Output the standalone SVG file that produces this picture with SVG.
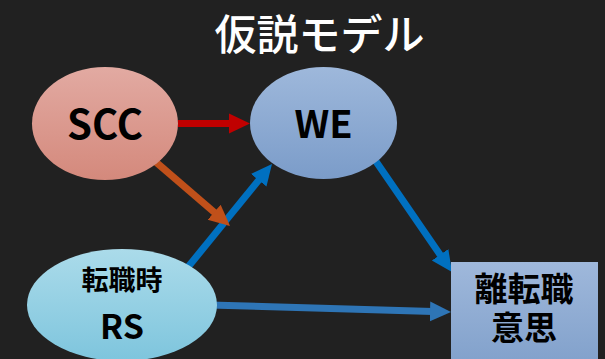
<svg xmlns="http://www.w3.org/2000/svg" width="605" height="359" viewBox="0 0 605 359">
<defs>
<style>
.lbl{font-family:"Noto Sans CJK JP","Liberation Sans",sans-serif;font-weight:bold;fill:#000;text-anchor:middle}
.title{font-family:"Noto Sans CJK JP","Liberation Sans",sans-serif;font-weight:500;fill:#fff;text-anchor:middle}
.c{fill:none;stroke-width:7}
</style>
<linearGradient id="gScc" x1="0" y1="0" x2="0" y2="1"><stop offset="0" stop-color="#E2AAA2"/><stop offset="1" stop-color="#D4897C"/></linearGradient>
<linearGradient id="gWe" x1="0" y1="0" x2="0" y2="1"><stop offset="0" stop-color="#9EB8DB"/><stop offset="1" stop-color="#7B9CC9"/></linearGradient>
<linearGradient id="gRs" x1="0" y1="0" x2="0" y2="1"><stop offset="0" stop-color="#ABDBEA"/><stop offset="1" stop-color="#7EC5DD"/></linearGradient>
<linearGradient id="gBox" x1="0" y1="0" x2="0" y2="1"><stop offset="0" stop-color="#9FB8DB"/><stop offset="1" stop-color="#7F9FCA"/></linearGradient>
<marker id="aRed" markerUnits="userSpaceOnUse" markerWidth="22" markerHeight="22" viewBox="0 -11 22 22" refX="3" refY="0" orient="auto"><path d="M0,-10 L21,0 L0,10 z" fill="#C00000"/></marker>
<marker id="aOr" markerUnits="userSpaceOnUse" markerWidth="22" markerHeight="22" viewBox="0 -11 22 22" refX="3" refY="0" orient="auto"><path d="M0,-10 L21,0 L0,10 z" fill="#C0501A"/></marker>
<marker id="aBl" markerUnits="userSpaceOnUse" markerWidth="22" markerHeight="22" viewBox="0 -11 22 22" refX="3" refY="0" orient="auto"><path d="M0,-10 L21,0 L0,10 z" fill="#0070C0"/></marker>
<marker id="aBl2" markerUnits="userSpaceOnUse" markerWidth="22" markerHeight="22" viewBox="0 -11 22 22" refX="3" refY="0" orient="auto"><path d="M0,-10 L21,0 L0,10 z" fill="#2E75B6"/></marker>
</defs>
<rect width="605" height="359" fill="#212121"/>
<text class="title" x="319.5" y="50" font-size="42">仮説モデル</text>
<g id="connectors">
<line class="c" x1="178" y1="123.5" x2="232" y2="123.5" stroke="#C00000" marker-end="url(#aRed)"/>
<line class="c" x1="188" y1="267" x2="260.6" y2="177.9" stroke="#0070C0" marker-end="url(#aBl)"/>
<line class="c" x1="150" y1="157" x2="216.4" y2="214.2" stroke="#C0501A" marker-end="url(#aOr)"/>
<line class="c" x1="375" y1="160" x2="441.8" y2="257.2" stroke="#0070C0" marker-end="url(#aBl)"/>
<line class="c" x1="210" y1="305" x2="433" y2="311.5" stroke="#2E75B6" marker-end="url(#aBl2)"/>
</g>
<g id="scc">
<ellipse cx="105" cy="123.5" rx="73" ry="56.5" fill="url(#gScc)"/>
<text class="lbl" x="105" y="139" font-size="40">SCC</text>
</g>
<g id="we">
<ellipse cx="323.5" cy="123" rx="73.5" ry="56" fill="url(#gWe)"/>
<text class="lbl" x="323.5" y="137.5" font-size="38">WE</text>
</g>
<g id="rs">
<ellipse cx="122" cy="305" rx="95" ry="56" fill="url(#gRs)"/>
<text class="lbl" x="122" y="290" font-size="27">転職時</text>
<text class="lbl" x="122" y="338.5" font-size="34">RS</text>
</g>
<g id="intent">
<rect x="451" y="262" width="147" height="110" fill="url(#gBox)"/>
<text class="lbl" font-size="33"><tspan x="524" y="301">離転職</tspan><tspan x="524" y="340">意思</tspan></text>
</g>
</svg>
